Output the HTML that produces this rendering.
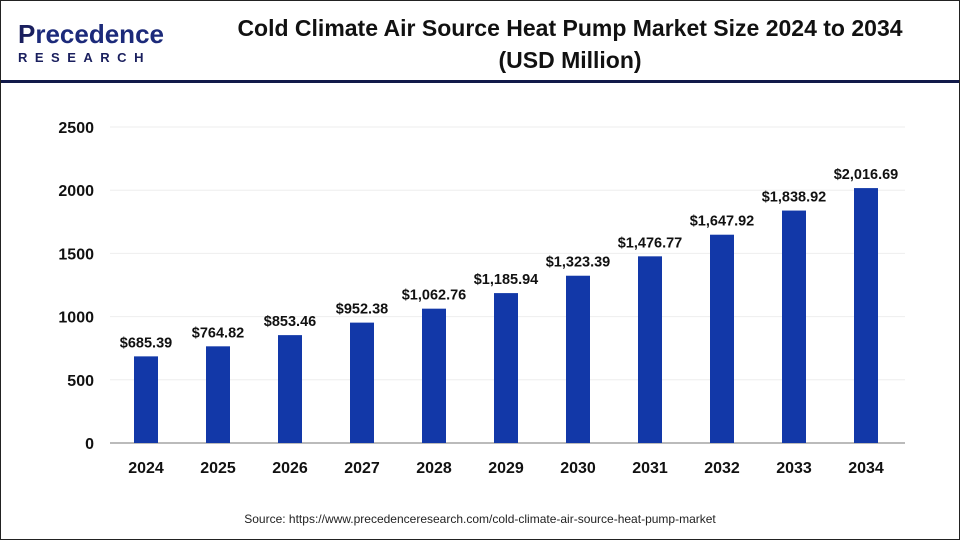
<!DOCTYPE html>
<html><head><meta charset="utf-8"><style>
body{margin:0;width:960px;height:540px;background:#fff;overflow:hidden;font-family:"Liberation Sans",Arial,sans-serif}
#frame{position:absolute;left:0;top:0;width:958px;height:538px;border:1px solid #222}
#hdr-line{position:absolute;left:1px;top:80px;width:958px;height:3px;background:#121a4a}
#title{position:absolute;left:190px;width:760px;top:12px;text-align:center;font-weight:bold;font-size:23px;line-height:32px;color:#111}
#src{position:absolute;left:0;width:960px;top:512px;text-align:center;font-size:12px;color:#222}
</style></head><body>
<div id="frame"></div>
<div style="position:absolute;left:18px;top:20px">
<div style="font-size:26px;font-weight:bold;color:#1a1f5e;line-height:28px">P<span style="color:#1c2a7a">recedence</span></div>
<div style="font-size:13px;font-weight:bold;color:#1a1f5e;letter-spacing:7.5px;margin-top:2px">RESEARCH</div>
</div>
<div id="title">Cold Climate Air Source Heat Pump Market Size 2024 to 2034<br>(USD Million)</div>
<div id="hdr-line"></div>
<svg id="chart" width="960" height="540" style="position:absolute;left:0;top:0"></svg>
<div id="src">Source: https://www.precedenceresearch.com/cold-climate-air-source-heat-pump-market</div>
<script>
const categories=["2024","2025","2026","2027","2028","2029","2030","2031","2032","2033","2034"];
const values=[685.39,764.82,853.46,952.38,1062.76,1185.94,1323.39,1476.77,1647.92,1838.92,2016.69];
const valueLabels=["$685.39","$764.82","$853.46","$952.38","$1,062.76","$1,185.94","$1,323.39","$1,476.77","$1,647.92","$1,838.92","$2,016.69"];
const yTicks=[0,500,1000,1500,2000,2500];
const svg=document.getElementById('chart');
const NS='http://www.w3.org/2000/svg';
const y0=443,yTop=127,yMax=2500,left=110,right=905;
const y=v=>y0-(v/yMax)*(y0-yTop);
const x=i=>146+i*72;
function mk(t,a){const e=document.createElementNS(NS,t);for(const k in a)e.setAttribute(k,a[k]);svg.appendChild(e);return e;}
yTicks.forEach(t=>{
 if(t>0){const g=mk('line',{x1:left,x2:right,y1:y(t),y2:y(t),stroke:'#eeeeee','stroke-width':1});
 
 }
 const l=mk('text',{x:94,y:y(t)+6,'text-anchor':'end','font-size':16,'font-weight':'bold',fill:'#111'});
 l.textContent=t;
 
 
});
const ax=mk('line',{x1:left,x2:right,y1:y0,y2:y0,stroke:'#bbbbbb','stroke-width':2});


values.forEach((v,i)=>{
 const b=mk('rect',{x:x(i)-12,y:y(v),width:24,height:y0-y(v),fill:'#1238a8'});
 
 
 const t=mk('text',{x:x(i),y:y(v)-9,'text-anchor':'middle','font-size':14.5,'font-weight':'bold',fill:'#111'});
 t.textContent=valueLabels[i];
 
 
 const c=mk('text',{x:x(i),y:473,'text-anchor':'middle','font-size':16,'font-weight':'bold',fill:'#111'});
 c.textContent=categories[i];
 
 
});
</script>
</body></html>
